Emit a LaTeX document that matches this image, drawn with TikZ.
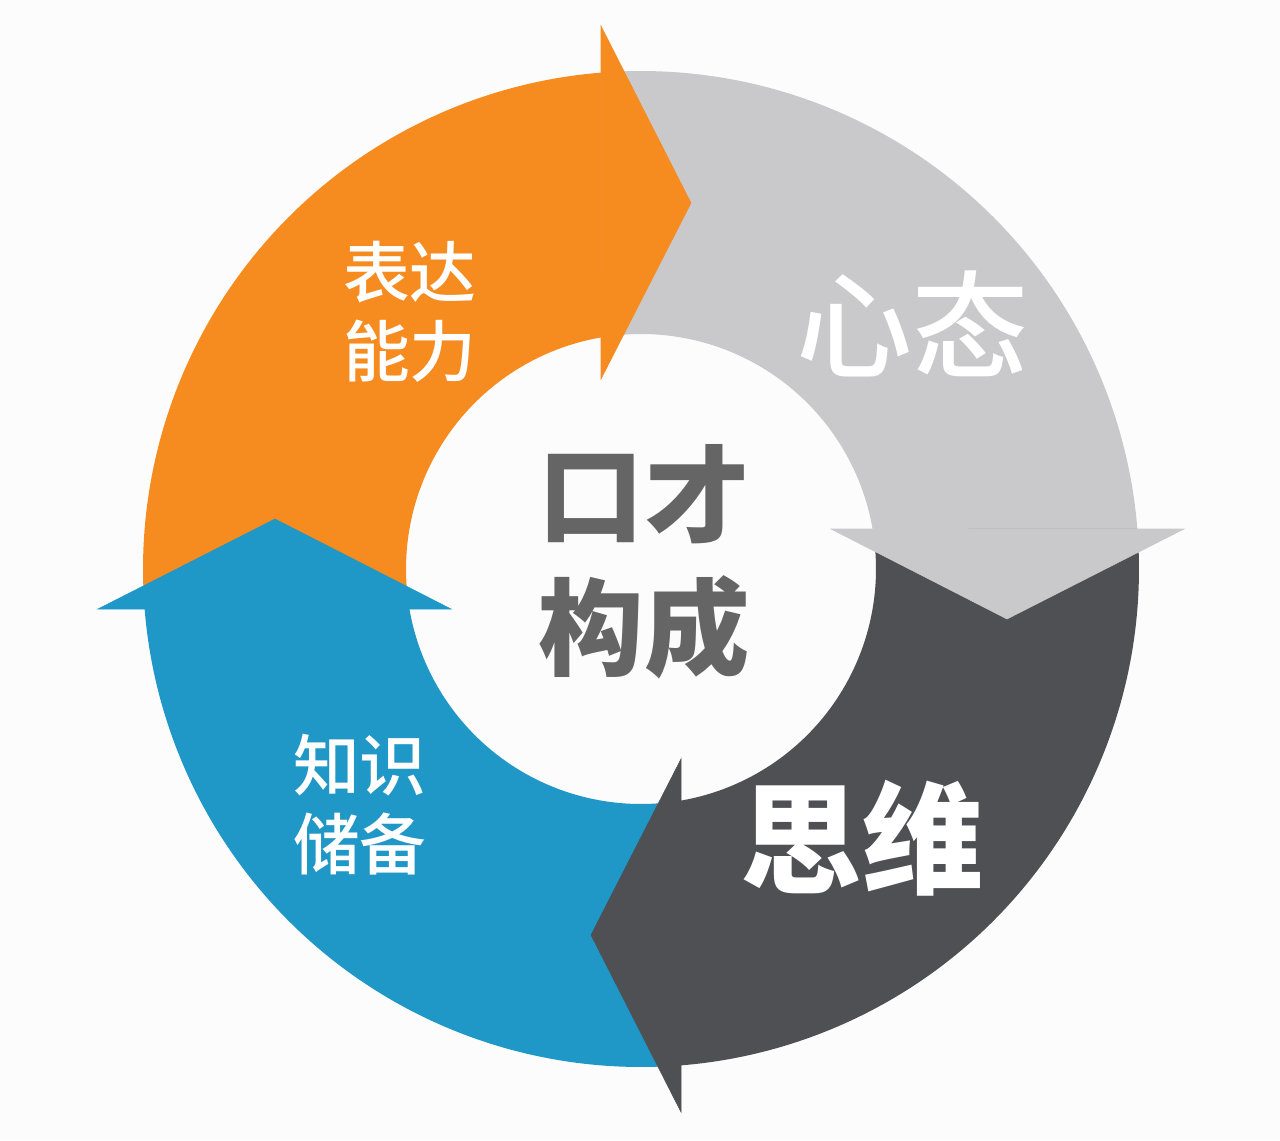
\documentclass[tikz,border=0pt]{standalone}
\usepackage{fontspec}
\newfontfamily\cjk{Noto Sans CJK SC}
\newfontfamily\cjkmed{Noto Sans CJK SC Medium}
\definecolor{bgwhite}{HTML}{FCFCFC}
\definecolor{orangeseg}{HTML}{F68B1F}
\definecolor{lightseg}{HTML}{C9C9CB}
\definecolor{darkseg}{HTML}{4E5053}
\definecolor{blueseg}{HTML}{1F97C7}
\definecolor{centergray}{HTML}{656565}
\begin{document}
\begin{tikzpicture}[x = 0.02cm, y = 0.02cm,
        every node/.style={inner sep=0pt, align=center},
        small/.style={text=white, font=\cjkmed\fontsize{38}{45}\selectfont},
        big/.style={text=white, font=\cjk\bfseries\fontsize{66}{70}\selectfont},
        head/.style={fill=#1, draw=#1, line width=0.3pt}
]
    \fill[bgwhite] (-641,-571) rectangle (639,569);
    % the four ring pieces, each from the last head's base to just under its own
\begin{scope}[rotate=0]
    \fill[orangeseg] (184.61:498) arc[start angle=184.61, end angle=94.15, radius=498] -- (98.81:235) arc[start angle=98.81, end angle=189.80, radius=235] -- cycle;
\end{scope}
\begin{scope}[rotate=-90]
    \fill[lightseg] (184.61:498) arc[start angle=184.61, end angle=94.15, radius=498] -- (98.81:235) arc[start angle=98.81, end angle=189.80, radius=235] -- cycle;
\end{scope}
\begin{scope}[rotate=-180]
    \fill[darkseg] (184.61:498) arc[start angle=184.61, end angle=94.15, radius=498] -- (98.81:235) arc[start angle=98.81, end angle=189.80, radius=235] -- cycle;
\end{scope}
\begin{scope}[rotate=-270]
    \fill[blueseg] (184.61:498) arc[start angle=184.61, end angle=94.15, radius=498] -- (98.81:235) arc[start angle=98.81, end angle=189.80, radius=235] -- cycle;
\end{scope}
    % heads on top
\begin{scope}[rotate=0]
    \path[head=orangeseg] (-40,190) -- (-40,543) -- (50,366) -- cycle;
\end{scope}
\begin{scope}[rotate=-90]
    \path[head=lightseg] (-40,190) -- (-40,543) -- (50,366) -- cycle;
\end{scope}
\begin{scope}[rotate=-180]
    \path[head=darkseg] (-40,190) -- (-40,543) -- (50,366) -- cycle;
\end{scope}
\begin{scope}[rotate=-270]
    \path[head=blueseg] (-40,190) -- (-40,543) -- (50,366) -- cycle;
\end{scope}

    \node[small] (biaoda) at (-231,257) {表达\\能力};
    \node[big, font=\cjkmed\fontsize{66}{70}\selectfont] (xintai) at (271,245) {心态};
    \node[big, text=centergray, font=\cjk\bfseries\fontsize{60}{76}\selectfont] (koucai) at (3,7) {口才\\构成};
    \node[big, font=\cjk\bfseries\fontsize{69}{72}\selectfont] (siwei) at (221,-269) {思维};
    \node[small] (zhishi) at (-281,-236) {知识\\储备};

\end{tikzpicture}
\end{document}
